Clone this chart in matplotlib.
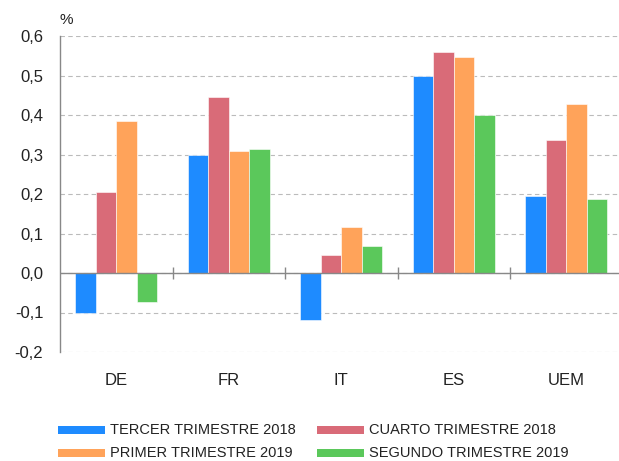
import numpy as np
import matplotlib
matplotlib.use('Agg')
import matplotlib.pyplot as plt
import matplotlib.patches as mpatches
from matplotlib import font_manager

plt.rcParams['font.family'] = ['Liberation Sans', 'DejaVu Sans']

# ── Data ────────────────────────────────────────────────────────────────────
countries = ['DE', 'FR', 'IT', 'ES', 'UEM']
series_names = ['TERCER TRIMESTRE 2018', 'CUARTO TRIMESTRE 2018',
                'PRIMER TRIMESTRE 2019', 'SEGUNDO TRIMESTRE 2019']
q3_2018 = [-0.10, 0.30, -0.12, 0.50, 0.195]
q4_2018 = [0.205, 0.446, 0.046, 0.56, 0.337]
q1_2019 = [0.385, 0.309, 0.116, 0.547, 0.428]
q2_2019 = [-0.074, 0.314, 0.068, 0.40, 0.187]
yticks = [-0.2, -0.1, 0.0, 0.1, 0.2, 0.3, 0.4, 0.5, 0.6]

colors = ['#1E8BFF', '#D96B78', '#FFA35A', '#5BC85B']

# narrow font for the legend if we have one
installed = {f.name for f in font_manager.fontManager.ttflist}
legend_font = 'Liberation Sans Narrow' if 'Liberation Sans Narrow' in installed else 'Liberation Sans'

# ── Figure ──────────────────────────────────────────────────────────────────
fig = plt.figure(figsize=(6.19, 4.61), dpi=100, facecolor='white')
ax = fig.add_axes([60 / 619, 1 - 352 / 461, 562.5 / 619, 316 / 461])

x = np.arange(len(countries))
bw = 0.182
all_series = [q3_2018, q4_2018, q1_2019, q2_2019]
for k, vals in enumerate(all_series):
    ax.bar(x + (k - 1.5) * bw, vals, width=bw, color=colors[k],
           edgecolor='white', linewidth=0.4, zorder=3)

ax.set_xlim(-0.5, len(countries) - 0.5)
ax.set_ylim(-0.2, 0.6)
ax.set_yticks(yticks)
ax.set_yticklabels([f'{v:.1f}'.replace('.', ',') for v in yticks],
                   fontsize=12, color='#222222')
ax.set_xticks(x)
ax.set_xticklabels(countries, fontsize=12, color='#222222')
ax.tick_params(axis='x', length=0, pad=15)
ax.tick_params(axis='y', length=0, pad=12)

ax.grid(axis='y', color='#BBBBBB', linestyle=(0, (4, 3)), linewidth=0.8, zorder=0)
for s in ['top', 'right', 'bottom']:
    ax.spines[s].set_visible(False)
ax.spines['left'].set_color('#888888')
ax.spines['left'].set_linewidth(1.0)

# zero line with category separators
ax.axhline(0, color='#888888', linewidth=1.0, zorder=4)
ax.vlines(x[:-1] + 0.5, -0.015, 0.015, color='#888888', linewidth=1.0, zorder=4)

ax.text(0.0, 1.03, '%', transform=ax.transAxes, fontsize=11,
        color='#222222', ha='left', va='bottom')

# ── Legend (drawn by hand: 2 x 2 grid) ──────────────────────────────────────
col_x = [58, 317]          # handle left edge, px
row_y = [430, 453]         # row centre, px
grid = [[0, 1], [2, 3]]
for r, row in enumerate(grid):
    for c, k in enumerate(row):
        x0 = col_x[c] / 619
        yc = 1 - row_y[r] / 461
        fig.patches.append(mpatches.Rectangle((x0, yc - 4 / 461), 47 / 619, 8 / 461,
                                              transform=fig.transFigure,
                                              facecolor=colors[k], edgecolor='none'))
        fig.text(x0 + 52 / 619, yc, series_names[k], fontsize=10.5,
                 family=[legend_font, 'DejaVu Sans'], color='#222222',
                 ha='left', va='center')

fig.savefig('out.png', dpi=100, facecolor='white')
